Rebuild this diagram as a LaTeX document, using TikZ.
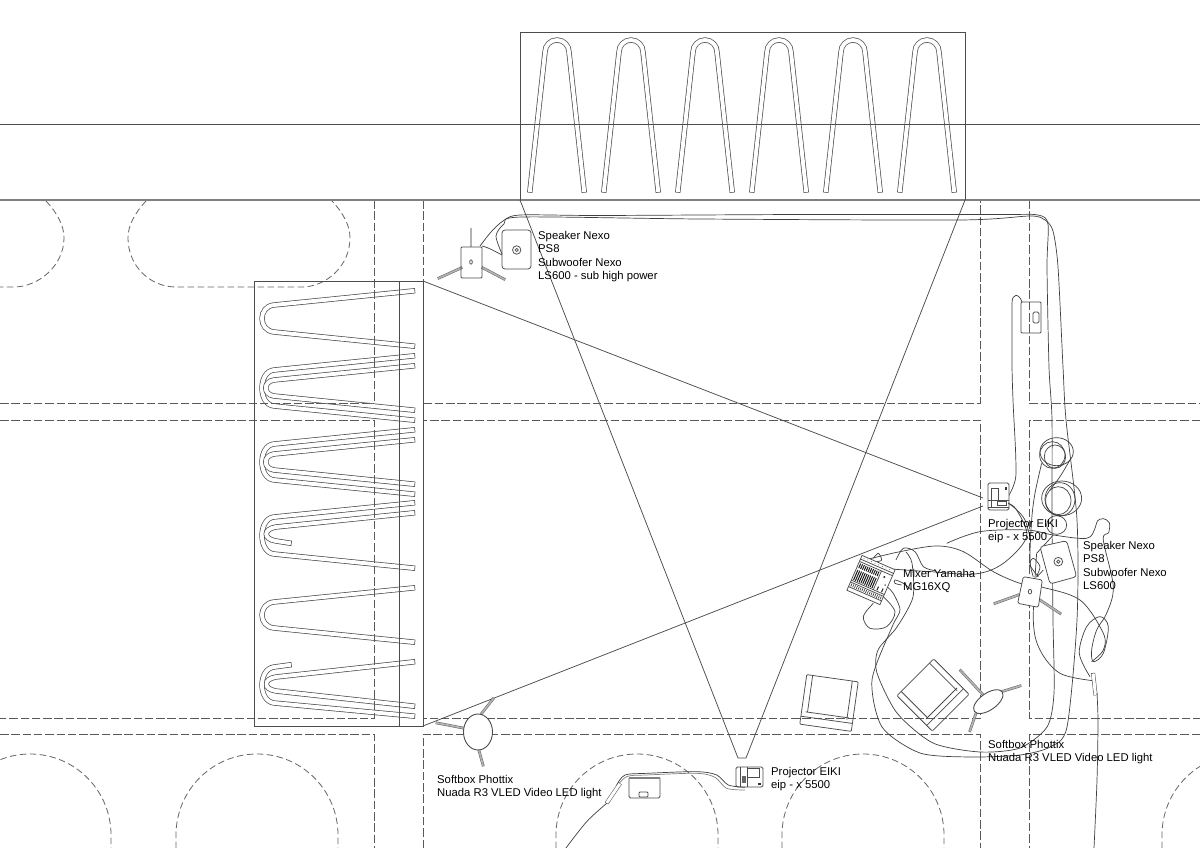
\documentclass[tikz,border=0pt]{standalone}
\usepackage{fontspec}
\setmainfont{Liberation Sans}
\begin{document}
\begin{tikzpicture}[%
  x=1pt,y=-1pt,
  tube/.style={draw=black!70,line width=.7pt,double=white,double distance=3.9pt,line cap=rect},
  thinline/.style={draw=black!70,line width=.75pt},
  road/.style={draw=black!65,line width=1pt,dash pattern=on 8.5pt off 2.8pt},
  arch/.style={draw=black!60,line width=.8pt,dash pattern=on 6.5pt off 3.5pt},
  cable/.style={draw=black!75,line width=.7pt},
  leg/.style={draw=black!60,line width=.5pt,double=black!30,double distance=1.7pt,line cap=rect},
  label/.style={font=\fontsize{11.3}{13.5}\selectfont,align=left,anchor=north west,inner sep=0pt,text=black}]
\clip (0,0) rectangle (1200,848);
\fill[white] (0,0) rectangle (1200,848);

% top rack
\foreach \tx in {0,74,148,222,296,370}
	\draw[tube] (530+\tx,190) -- (545+\tx,52) arc (180:360:12) -- (584+\tx,190);

% left rack
\foreach \yt/\yb/\xl in {291/346/258,356/420/258,366/410/263,430/494/258,440/484/263,503/568/258,588/642/258}
	\draw[tube] (412.5,\yt) -- (274,\yt+14) .. controls (\xl,\yt+15.5) and (\xl,\yb-15.5) .. (274,\yb-14) -- (412.5,\yb);
\draw[tube] (412.5,513) -- (276,527) .. controls (263,529) and (263,539) .. (276,541) -- (289,543);
\draw[tube] (412.5,662) -- (276,677) .. controls (263,679) and (263,689) .. (276,691) -- (412.5,706);
\draw[tube] (289,665) -- (274,667) .. controls (258,669) and (258,701) .. (274,703) -- (412.5,716);

% roads
\draw[road] (0,403) -- (374,403) (374,200) -- (374,403);
\draw[road] (0,420) -- (374,420) -- (374,718) -- (0,718);
\draw[road] (0,734) -- (374,734) -- (374,848);
\draw[road] (423,200) -- (423,403) -- (980,403) -- (980,200);
\draw[road] (423,718) -- (423,420) -- (980,420) -- (980,718) -- (423,718);
\draw[road] (423,848) -- (423,734) -- (980,734) -- (980,848);
\draw[road] (1029,200) -- (1029,403) -- (1200,403);
\draw[road] (1200,420) -- (1029,420) -- (1029,718) -- (1200,718);
\draw[road] (1200,734) -- (1029,734) -- (1029,848);
\foreach \cx in {30,257,637,863,1243}
	\draw[arch] (\cx-81,848) -- (\cx-81,835) arc (180:360:81) -- (\cx+81,848);
\draw[arch] (46,201) .. controls (58,214) and (64,226) .. (64,238) .. controls (64,266) and (38,287) .. (14,287) -- (0,287);
\draw[arch] (146,201) .. controls (134,214) and (128,226) .. (128,238) .. controls (128,266) and (150,287) .. (176,287) -- (302,287) .. controls (326,287) and (350,266) .. (350,238) .. controls (350,226) and (344,214) .. (332,201);

\draw[draw=black!70,line width=.8pt] (0,124) -- (1200,124);
\draw[draw=black!50,line width=1.3pt] (0,200) -- (1200,200);

% frames and light cones
\coordinate (rackNW) at (254,281);
\coordinate (rackNE) at (423,281);
\coordinate (rackSE) at (423,726);
\coordinate (rackSW) at (254,726);
\coordinate (topNW) at (520,200);
\coordinate (topNE) at (965,200);
\coordinate (projR) at (983,498);
\coordinate (projRb) at (983,506);
\coordinate (projBl) at (738,758);
\coordinate (projBr) at (746,758);
\draw[thinline] (rackNW) -- (rackNE) -- (rackSE) -- (rackSW) -- cycle;
\draw[thinline] (399,281) -- (399,726);
\draw[thinline] (topNW) -- (520,32) -- (965,32) -- (topNE);
\draw[thinline] (rackNE) -- (projR);
\draw[thinline] (rackSE) -- (projRb);
\draw[thinline] (topNW) -- (projBl) -- (projBr) -- (topNE);

% top speaker and subwoofer
\draw[leg] (471,246) -- (471,229);
\draw[leg] (461,268) -- (439,278);
\draw[leg] (483,268) -- (504,279);
\draw[thinline,rounded corners=1pt] (461,247) rectangle (482,278);
\draw[thinline] (471,262) ellipse (1.3 and 2.2);
\draw[thinline,rounded corners=3pt] (502,230) rectangle (531,269);
\draw[thinline] (516.7,250) circle (4.2) circle (1.6);

% cables to the right side
\draw[cable] plot[smooth,tension=.45] coordinates {(480,246) (491,232) (503,221) (520,215) (600,215.5) (800,214.5) (1000,214.5) (1038,215) (1048,224) (1047,267) (1049,367) (1052,420) (1052,520) (1053,620) (1054,693) (1047,727) (1020,748) (980,752) (933,743) (897,713) (877,673) (878,650) (897,627) (913,597) (912,563) (906,552)};
\draw[cable] plot[smooth,tension=.45] coordinates {(502,254) (496,236) (504,224) (522,217) (700,219) (960,220) (1030,216) (1045,220) (1053,231) (1058,267) (1063,367) (1066,420) (1077,520) (1077,620) (1067,727) (1050,747) (1020,755) (970,757) (920,753) (882,727) (872,680) (892,627) (900,610) (893,593) (885,585)};
\draw[cable] (482,246) .. controls (490,248) and (496,252) .. (502,255);

% rack box behind
\draw[thinline,rounded corners=1pt] (1021,302) rectangle (1041,333);
\draw[thinline,rounded corners=1.5pt] (1033,312) rectangle (1039,323);
\draw[cable] (1022,302) .. controls (1019,293) and (1012,293) .. (1012,303) -- (1012,367) .. controls (1013,420) and (1016,440) .. (1016,473) .. controls (1016,482) and (1012,490) .. (1008,497);

% right bundle, in 3x crop units
\begin{scope}[shift={(820,420)},x=.3333pt,y=-.3333pt]
	\draw[cable] (710,95) ellipse (50 and 42);
	\draw[cable] (697,105) ellipse (38 and 40);
	\draw[cable] (705,110) ellipse (32 and 35);
	\draw[cable] (725,235) ellipse (60 and 52);
	\draw[cable] (720,238) ellipse (45 and 50);
	\draw[cable] (715,242) ellipse (38 and 42);
	\draw[cable] (710,315) ellipse (30 and 28);
	\draw[cable] plot[smooth,tension=.55] coordinates {(135,420) (240,395) (350,378) (430,395) (520,455) (600,490) (660,500) (780,540) (850,640) (850,690) (815,725)};
	\draw[cable] plot[smooth,tension=.55] coordinates {(380,370) (480,335) (620,330) (700,345) (800,355) (825,325) (832,303) (850,296) (868,308) (866,338) (850,360) (880,500) (860,580) (830,630) (815,690) (820,725) (850,700) (865,620) (840,590) (800,620) (778,700) (810,770)};
	\draw[cable] plot[smooth,tension=.55] coordinates {(650,400) (640,600) (660,690) (720,760) (818,782)};
	\draw[cable] plot[smooth,tension=.55] coordinates {(665,130) (645,220) (635,300) (630,420) (640,470)};
	\draw[cable] plot[smooth,tension=.55] coordinates {(185,445) (330,455) (465,462) (550,430) (620,350) (590,270) (565,250)};
	\draw[cable] plot[smooth,tension=.55] coordinates {(228,420) (250,385) (285,395) (310,440) (345,452)};
	\draw[cable] plot[smooth,tension=.55] coordinates {(190,530) (225,575) (200,620) (150,625) (130,590) (160,550)};
	\draw[cable] plot[smooth,tension=.55] coordinates {(245,495) (225,490) (225,480) (250,490) (275,510)};
	\draw[cable] plot[smooth,tension=.55] coordinates {(160,415) (175,400) (185,420) (170,425)};
	\draw[cable] plot[smooth,tension=.55] coordinates {(655,470) (630,435) (640,415) (660,440) (650,470) (670,450)};
	\draw[cable] plot[smooth,tension=.55] coordinates {(750,120) (720,170) (690,210)};
	\draw[cable] plot[smooth,tension=.55] coordinates {(650,400) (700,345)};
	% connector at the end of the long cable
	\draw[leg,draw=black!70,double=white,double distance=3pt] (820,765) -- (826,820);
	% speaker and subwoofer
	\draw[leg] (595,525) -- (525,550);
	\draw[leg] (660,540) -- (720,580);
	\draw[thinline,fill=white,rounded corners=1.5pt] (610,470) -- (667,480) -- (655,562) -- (593,550) -- cycle;
	\draw[thinline] (630,515) ellipse (5 and 7);
	\draw[thinline,fill=white,rounded corners=3pt] (660,380) -- (740,362) -- (770,470) -- (690,492) -- cycle;
	\draw[thinline] (715,425) circle (13) circle (5);
	% softbox
	\draw[leg] (487,822) -- (422,752);
	\draw[leg] (545,815) -- (600,798);
	\draw[leg] (468,880) -- (450,932);
	\draw[thinline,line width=.9pt,fill=white,rotate around={35:(505,845)}] (505,845) ellipse (51 and 25);
\end{scope}

\draw[cable] plot[smooth,tension=.5] coordinates {(1097,693) (1098,722) (1097,780) (1094,848)};

% projector right
\draw[thinline,fill=white,rounded corners=1.5pt] (988,483) rectangle (1009,510);
\draw[thinline] (991,488) rectangle (998,500);
\draw[thinline] (988,500) -- (1009,500) (988,507) -- (1009,507);
\draw[thinline] (991,500) -- (991,507);
\draw[thinline] (997,501.5) rectangle (1006,505.5);
\fill[black!80] (1005,487) rectangle (1006.5,489.5);
\draw[cable] plot[smooth,tension=.5] coordinates {(1008,503) (1017,510) (1025,520) (1030,537)};

% mixer
\begin{scope}[shift={(871,580)},rotate=-23.5]
	\draw[thinline,fill=white] (-18,-19) rectangle (18,19);
	\draw[thinline] (-18,-15) -- (18,-15) (-18,-12.5) -- (18,-12.5);
	\draw[thinline] (-18,8) -- (18,8) (-18,10) -- (18,10) (-18,15) -- (18,15);
	\foreach \fx in {-16,-14,...,4} {
		\draw[black!90,line width=1pt] (\fx,-11) -- (\fx,-6) (\fx,-4) -- (\fx,7);
		\draw[black!75,line width=.7pt] (\fx,11) -- (\fx,14);
	}
	\foreach \fx in {6,8,...,16}
		\draw[black!75,line width=.7pt] (\fx,11) -- (\fx,14);
	\draw[thinline] (6,-12.5) -- (6,8);
	\fill[black!85] (11,-8) circle (1.1) (15,-1) circle (.8) (9,3) rectangle (10,7) (14,3) rectangle (15,7);
	\foreach \fx in {-15,-11,...,15}
		\fill[black!70] (\fx,-17) circle (.5);
\end{scope}

% chairs
\begin{scope}[shift={(829,703)},rotate=-8]
	\draw[thinline,rounded corners=1pt] (-26,-25) -- (26,-25) -- (26,25) -- (-26,25) -- cycle;
	\draw[thinline] (-20,-25) -- (-20,12) (20,-25) -- (20,14);
	\draw[thinline] (-22,12) -- (22,12) (-26,17) -- (26,17);
\end{scope}
\begin{scope}[shift={(933,695)},rotate=45]
	\draw[thinline,rounded corners=1pt] (-26,-25) -- (26,-25) -- (26,25) -- (-26,25) -- cycle;
	\draw[thinline] (-20,-25) -- (-20,12) (20,-25) -- (20,14);
	\draw[thinline] (-22,12) -- (22,12) (-26,17) -- (26,17);
\end{scope}

% softbox left
\draw[leg] (463,728) -- (437,723);
\draw[leg] (482,713) -- (493,699);
\draw[leg] (478,747) -- (483,765);
\draw[thinline,line width=.9pt,fill=white] (478,732) ellipse (14.5 and 18);

% bottom projector, side table and cable
\draw[thinline,fill=white,rounded corners=1.5pt] (736,767) rectangle (763,787);
\draw[thinline] (747,768.5) rectangle (759,777.5);
\draw[thinline] (740,767) -- (740,787) (747,767) -- (747,787);
\fill[black!60] (741.5,776) rectangle (745.5,783);
\fill[black!80] (758,783) rectangle (760.5,784.5);
\draw[thinline,rounded corners=1.5pt] (629,778) -- (629,798) -- (660,798) -- (660,778);
\draw[draw=black!50,line width=1.1pt] (629,778) -- (660,778);
\draw[thinline,rounded corners=1pt] (639,792) rectangle (648,797);
\begin{scope}[shift={(430,690)},x=.3333pt,y=-.3333pt]
	\draw[cable] plot[smooth,tension=.5] coordinates {(945,292) (895,285) (860,255) (800,245) (650,250) (585,255) (560,285)};
	\draw[cable,black!50] plot[smooth,tension=.5] coordinates {(945,300) (890,295) (855,262) (800,250) (650,255) (590,260) (555,295)};
	\draw[leg,draw=black!70,double=white,double distance=3pt] (533,335) -- (567,285);
	\draw[cable] plot[smooth,tension=.5] coordinates {(530,340) (470,395) (408,474)};
\end{scope}

% labels
\node[label] (spktop) at (538,231) {Speaker Nexo\\PS8\\Subwoofer Nexo\\LS600 - sub high power};
\node[label] (spkright) at (1083,541) {Speaker Nexo\\PS8\\Subwoofer Nexo\\LS600};
\node[label] (projright) at (988,519) {Projector EIKI\\eip - x 5500};
\node[label] (mixer) at (903,569) {Mixer Yamaha\\MG16XQ};
\node[label] (softright) at (988,740) {Softbox Phottix\\Nuada R3 VLED Video LED light};
\node[label] (softleft) at (437,775) {Softbox Phottix\\Nuada R3 VLED Video LED light};
\node[label] (projbottom) at (771,767) {Projector EIKI\\eip - x 5500};
\end{tikzpicture}
\end{document}
